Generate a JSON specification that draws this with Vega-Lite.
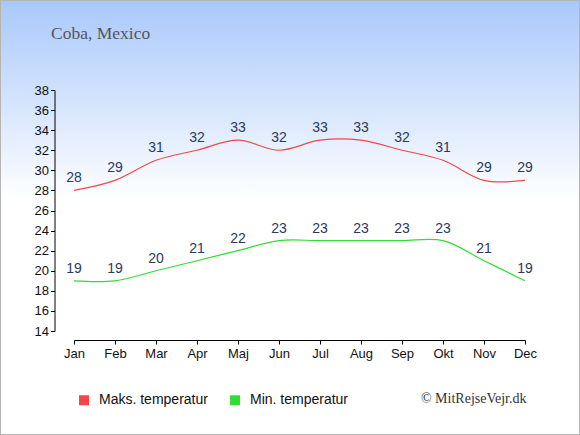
{
  "$schema": "https://vega.github.io/schema/vega-lite/v6.json",
  "width": 580,
  "height": 435,
  "autosize": {"type": "none"},
  "padding": 0,
  "background": "white",
  "title": {
    "text": "Coba, Mexico",
    "anchor": "start",
    "offset": -42,
    "dx": 51,
    "font": "Liberation Serif",
    "fontSize": 17.5,
    "fontWeight": "normal",
    "color": "#555555"
  },
  "config": {
    "view": {
      "fill": {
        "gradient": "linear",
        "x1": 0, "y1": 0, "x2": 0, "y2": 1,
        "stops": [
          {"offset": 0, "color": "#a8c8fb"},
          {"offset": 0.46, "color": "#ffffff"},
          {"offset": 1, "color": "#ffffff"}
        ]
      },
      "stroke": "#b4b4b4",
      "strokeWidth": 2
    },
    "axis": {
      "labelFont": "Liberation Sans",
      "labelFontSize": 13,
      "labelColor": "#111111",
      "domainColor": "#000000",
      "tickColor": "#000000",
      "grid": false
    },
    "legend": {
      "labelFont": "Liberation Sans",
      "labelFontSize": 14,
      "labelColor": "#111111"
    }
  },
  "data": {
    "values": [
      {"month": "Jan", "series": "Maks. temperatur", "temp": 28},
      {"month": "Feb", "series": "Maks. temperatur", "temp": 29},
      {"month": "Mar", "series": "Maks. temperatur", "temp": 31},
      {"month": "Apr", "series": "Maks. temperatur", "temp": 32},
      {"month": "Maj", "series": "Maks. temperatur", "temp": 33},
      {"month": "Jun", "series": "Maks. temperatur", "temp": 32},
      {"month": "Jul", "series": "Maks. temperatur", "temp": 33},
      {"month": "Aug", "series": "Maks. temperatur", "temp": 33},
      {"month": "Sep", "series": "Maks. temperatur", "temp": 32},
      {"month": "Okt", "series": "Maks. temperatur", "temp": 31},
      {"month": "Nov", "series": "Maks. temperatur", "temp": 29},
      {"month": "Dec", "series": "Maks. temperatur", "temp": 29},
      {"month": "Jan", "series": "Min. temperatur", "temp": 19},
      {"month": "Feb", "series": "Min. temperatur", "temp": 19},
      {"month": "Mar", "series": "Min. temperatur", "temp": 20},
      {"month": "Apr", "series": "Min. temperatur", "temp": 21},
      {"month": "Maj", "series": "Min. temperatur", "temp": 22},
      {"month": "Jun", "series": "Min. temperatur", "temp": 23},
      {"month": "Jul", "series": "Min. temperatur", "temp": 23},
      {"month": "Aug", "series": "Min. temperatur", "temp": 23},
      {"month": "Sep", "series": "Min. temperatur", "temp": 23},
      {"month": "Okt", "series": "Min. temperatur", "temp": 23},
      {"month": "Nov", "series": "Min. temperatur", "temp": 21},
      {"month": "Dec", "series": "Min. temperatur", "temp": 19}
    ]
  },
  "encoding": {
    "x": {
      "field": "month",
      "type": "ordinal",
      "sort": ["Jan", "Feb", "Mar", "Apr", "Maj", "Jun", "Jul", "Aug", "Sep", "Okt", "Nov", "Dec"],
      "scale": {"type": "point", "range": [74, 525], "padding": 0},
      "axis": {
        "orient": "bottom",
        "offset": -95,
        "labelAngle": 0,
        "tickSize": 4,
        "labelPadding": 3,
        "title": "© MitRejseVejr.dk",
        "titleFont": "Liberation Serif",
        "titleFontSize": 14,
        "titleFontWeight": "normal",
        "titleColor": "#333333",
        "titleAlign": "right",
        "titleBaseline": "middle",
        "titleX": 526,
        "titleY": 58
      }
    },
    "y": {
      "field": "temp",
      "type": "quantitative",
      "scale": {"domain": [14, 38], "range": [331, 90], "nice": false, "zero": false},
      "axis": {
        "orient": "left",
        "offset": -54.5,
        "values": [14, 16, 18, 20, 22, 24, 26, 28, 30, 32, 34, 36, 38],
        "tickSize": 4,
        "labelPadding": 2,
        "title": null
      }
    }
  },
  "layer": [
    {
      "mark": {"type": "line", "interpolate": "catmull-rom", "strokeWidth": 1.2},
      "encoding": {
        "color": {
          "field": "series",
          "type": "nominal",
          "scale": {"domain": ["Maks. temperatur", "Min. temperatur"], "range": ["#f04848", "#33dd33"]},
          "legend": {
            "title": null,
            "orient": "none",
            "direction": "horizontal",
            "legendX": 77,
            "legendY": 393,
            "padding": 0,
            "symbolType": "square",
            "symbolSize": 25,
            "symbolStrokeWidth": 5,
            "symbolOpacity": 1,
            "labelOffset": 8,
            "columnPadding": 14
          }
        }
      }
    },
    {
      "mark": {
        "type": "text",
        "dy": -8,
        "baseline": "alphabetic",
        "font": "Liberation Sans",
        "fontSize": 14,
        "color": "#2a3a5e"
      },
      "encoding": {
        "text": {"field": "temp", "type": "quantitative"},
        "detail": {"field": "series", "type": "nominal"}
      }
    }
  ]
}
